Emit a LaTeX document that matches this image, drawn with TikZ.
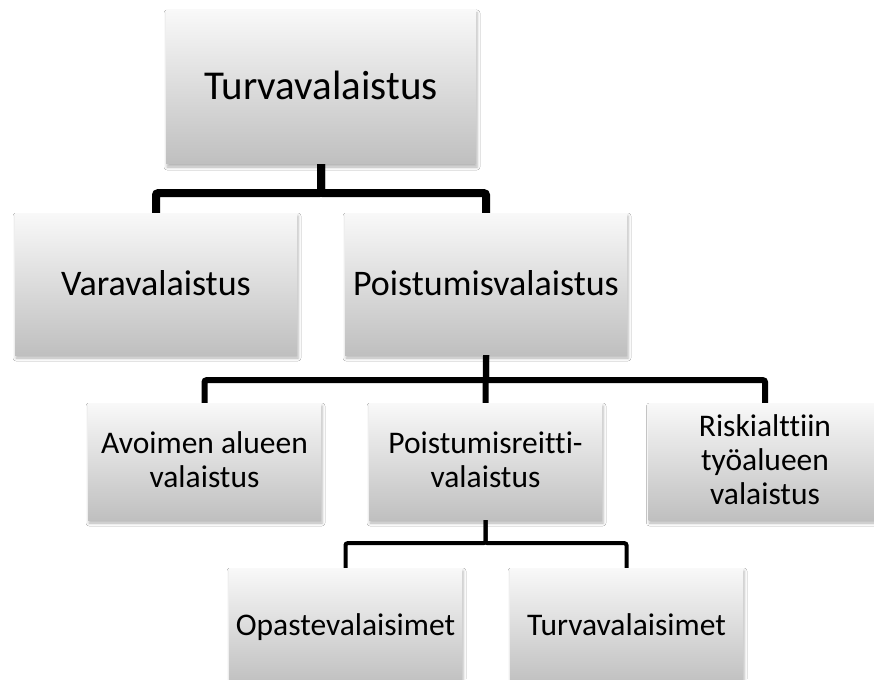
\documentclass[tikz,border=0pt]{standalone}
\usepackage{fontspec}
\setmainfont{Carlito}[Ligatures=NoCommon]
\usetikzlibrary{positioning,shadows.blur}
\tikzset{
  box/.style={draw=none, inner sep=0pt, text=black,
    top color=gray!5, bottom color=gray!50,
    blur shadow={shadow xshift=1pt, shadow yshift=-3pt, shadow blur radius=3pt, shadow opacity=30}},
  multiline/.style={align=center},
  bigbox/.style={box, minimum width=282pt, minimum height=142pt, text height=27pt, text depth=5pt,
    font=\fontsize{36}{40}\selectfont},
  smallbox/.style={box, minimum width=233pt, minimum height=117pt, font=\fontsize{31.5}{34}\selectfont},
  leafbox/.style={smallbox, text height=23pt, text depth=6pt},
  conn/.style={draw=black, rounded corners=2pt}
}
\newcommand{\toprule}{\rule{0pt}{28pt}}

\begin{document}
\begin{tikzpicture}[x=1pt, y=-1pt]
  \fill[white] (0,0) rectangle (874,679);
  \useasboundingbox (0,0) rectangle (874,679);
  %%
  \node[box, minimum width=310pt, minimum height=154pt, text height=31pt, text depth=5pt,
    font=\fontsize{41}{46}\selectfont] (turva) at (321,87) {Turvavalaistus};
  \node[bigbox] (vara) at (156,284) {Varavalaistus};
  \node[bigbox] (pois) at (486,284) {Poistumisvalaistus};
  %%
  \node[smallbox, multiline] (avoin)  at (204.5,461.5) {\toprule Avoimen alueen\\valaistus\strut};
  \node[smallbox, multiline] (reitti) at (485.5,461.5) {\toprule Poistumisreitti-\\valaistus\strut};
  \node[smallbox, multiline] (riski)  at (765,461.5)   {\toprule Riskialttiin\\työalueen\\valaistus\strut};
  %%
  \node[leafbox] (opaste) at (345.5,626.5) {Opastevalaisimet};
  \node[leafbox] (lamppu) at (626.5,626.5) {Turvavalaisimet};
  %%
  \draw[conn,line width=8pt] (turva.south) -- ++(0,29) -| (vara.north);
  \draw[conn,line width=8pt] (turva.south) -- ++(0,29) -| (pois.north);
  %%
  \draw[conn,line width=6pt] (pois.south) -- ++(0,25) -| (avoin.north);
  \draw[conn,line width=6pt] (pois.south) -- (reitti.north);
  \draw[conn,line width=6pt] (pois.south) -- ++(0,25) -| (riski.north);
  %%
  \draw[conn,line width=4pt] (reitti.south) -- ++(0,23) -| (opaste.north);
  \draw[conn,line width=4pt] (reitti.south) -- ++(0,23) -| (lamppu.north);
\end{tikzpicture}
\end{document}
